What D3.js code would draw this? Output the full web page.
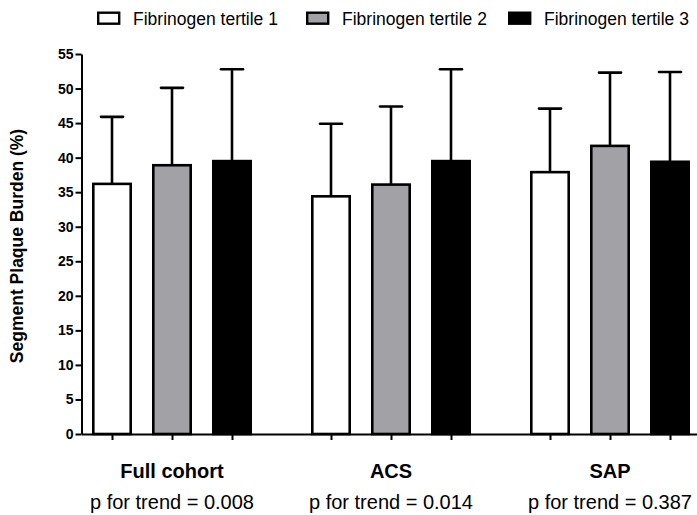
<!DOCTYPE html>
<html>
<head>
<meta charset="utf-8">
<script src="https://cdn.jsdelivr.net/npm/d3@7"></script>
<style>
  html, body { margin: 0; padding: 0; background: #fff; }
  svg { display: block; font-family: Arial, "Liberation Sans", Helvetica, sans-serif; }
</style>
</head>
<body>
<svg id="chart" width="697" height="515"></svg>
<script>
// Cohort groups and their trend-test p values
const groups = ["Full cohort", "ACS", "SAP"];
const pTrend = ["0.008", "0.014", "0.387"];

// Fibrinogen tertiles
const tertiles = ["Fibrinogen tertile 1", "Fibrinogen tertile 2", "Fibrinogen tertile 3"];
const tertileFill = ["#ffffff", "#a2a1a6", "#000000"];

// Mean segment plaque burden (%) per group, one array per tertile
const tertile1Mean = [36.2, 34.4, 37.9];
const tertile2Mean = [38.9, 36.1, 41.7];
const tertile3Mean = [39.5, 39.5, 39.4];

// Upper end of the error bar (mean + SD) per group, one array per tertile
const tertile1Upper = [45.9, 44.9, 47.1];
const tertile2Upper = [50.1, 47.4, 52.3];
const tertile3Upper = [52.8, 52.8, 52.4];

// Y axis ticks
const yTicks = [0, 5, 10, 15, 20, 25, 30, 35, 40, 45, 50, 55];

const means = [tertile1Mean, tertile2Mean, tertile3Mean];
const uppers = [tertile1Upper, tertile2Upper, tertile3Upper];
const rows = [];
groups.forEach((g, gi) => {
  tertiles.forEach((t, ti) => {
    rows.push({ group: g, tertile: t, ti, mean: means[ti][gi], upper: uppers[ti][gi] });
  });
});

const svg = d3.select("#chart");

const axisX = 81.5;
const y = d3.scaleLinear().domain([0, 55]).range([434, 54]);
const x0 = d3.scaleBand().domain(groups).range([62.5, 719.5]).padding(0);
const x1 = d3.scaleBand().domain(tertiles).range([19.5, 199.5]).paddingInner(1 / 3).paddingOuter(1 / 6);

const barStroke = 2.6;

// Bars
const bars = svg.append("g");
bars.selectAll("rect")
  .data(rows)
  .join("rect")
  .attr("x", d => x0(d.group) + x1(d.tertile) + barStroke / 2)
  .attr("width", x1.bandwidth() - barStroke)
  .attr("y", d => y(d.mean))
  .attr("height", d => y(0) - y(d.mean))
  .attr("fill", d => tertileFill[d.ti])
  .attr("stroke", "#000")
  .attr("stroke-width", barStroke);

// Upper error bars
const capHalf = 11;
const err = svg.append("g").attr("stroke", "#000").attr("stroke-width", 2.6);
err.selectAll("line.stem")
  .data(rows)
  .join("line")
  .attr("class", "stem")
  .attr("x1", d => x0(d.group) + x1(d.tertile) + x1.bandwidth() / 2)
  .attr("x2", d => x0(d.group) + x1(d.tertile) + x1.bandwidth() / 2)
  .attr("y1", d => y(d.mean))
  .attr("y2", d => y(d.upper));
err.selectAll("line.cap")
  .data(rows)
  .join("line")
  .attr("class", "cap")
  .attr("stroke-linecap", "round")
  .attr("x1", d => x0(d.group) + x1(d.tertile) + x1.bandwidth() / 2 - capHalf)
  .attr("x2", d => x0(d.group) + x1(d.tertile) + x1.bandwidth() / 2 + capHalf)
  .attr("y1", d => y(d.upper))
  .attr("y2", d => y(d.upper));

// Y axis
const yAxis = d3.axisLeft(y).tickValues(yTicks).tickSize(6).tickPadding(2).tickSizeOuter(0);
const gy = svg.append("g").attr("transform", `translate(${axisX},0)`).call(yAxis);
gy.select(".domain").attr("stroke", "#000").attr("stroke-width", 2);
gy.selectAll(".tick line").attr("stroke", "#000").attr("stroke-width", 2);
gy.selectAll(".tick text")
  .attr("fill", "#000")
  .style("font-size", "14px")
  .style("font-weight", "bold")
  .style("font-family", "Arial, 'Liberation Sans', sans-serif");

// X axis with a tick under every bar
const xTickPos = rows.map(d => x0(d.group) + x1(d.tertile) + x1.bandwidth() / 2);
const xScaleTicks = d3.scaleLinear().domain([axisX, 697]).range([axisX, 697]);
const xAxis = d3.axisBottom(xScaleTicks).tickValues(xTickPos).tickSize(6).tickSizeOuter(0).tickFormat("");
const gx = svg.append("g").attr("transform", `translate(0,${y(0)})`).call(xAxis);
gx.select(".domain").attr("stroke", "#000").attr("stroke-width", 2);
gx.selectAll(".tick line").attr("stroke", "#000").attr("stroke-width", 2);

// Y axis title
svg.append("text")
  .attr("transform", `translate(23,${(y(0) + y(55)) / 2 + 2}) rotate(-90)`)
  .attr("text-anchor", "middle")
  .style("font-size", "17.5px")
  .style("font-weight", "bold")
  .text("Segment Plaque Burden (%)");

// Group labels and trend p values
const labels = svg.append("g").attr("text-anchor", "middle");
labels.selectAll("text.grp")
  .data(groups)
  .join("text")
  .attr("class", "grp")
  .attr("x", d => x0(d) + x0.bandwidth() / 2)
  .attr("y", 478)
  .style("font-size", "20px")
  .style("font-weight", "bold")
  .text(d => d);
labels.selectAll("text.p")
  .data(groups)
  .join("text")
  .attr("class", "p")
  .attr("x", d => x0(d) + x0.bandwidth() / 2)
  .attr("y", 509)
  .style("font-size", "20px")
  .text((d, i) => `p for trend = ${pTrend[i]}`);

// Legend
const legendX = [97, 306, 508];
const legend = svg.append("g");
const li = legend.selectAll("g")
  .data(tertiles)
  .join("g")
  .attr("transform", (d, i) => `translate(${legendX[i]},0)`);
li.append("rect")
  .attr("x", 1.2).attr("y", 12.7)
  .attr("width", 21).attr("height", 11)
  .attr("fill", (d, i) => tertileFill[i])
  .attr("stroke", "#000")
  .attr("stroke-width", 2.4);
li.append("text")
  .attr("x", 36)
  .attr("y", 25)
  .style("font-size", "17.5px")
  .text(d => d);
</script>
</body>
</html>
